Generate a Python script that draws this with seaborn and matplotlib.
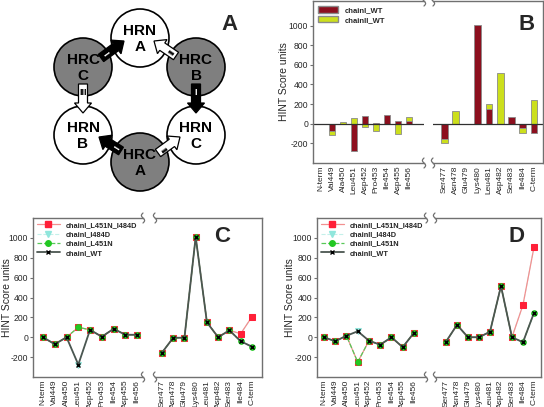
import numpy as np
import pandas as pd
import seaborn as sns
import matplotlib.pyplot as plt
from matplotlib.patches import Circle, FancyArrow, Patch
from matplotlib.lines import Line2D

# ---------------------------------------------------------
# data
# ---------------------------------------------------------
left_res = ['N-term', 'Val449', 'Ala450', 'Leu451', 'Asp452', 'Pro453',
            'Ile454', 'Asp455', 'Ile456']
right_res = ['Ser477', 'Asn478', 'Glu479', 'Lys480', 'Leu481', 'Asp482',
             'Ser483', 'Ile484', 'C-term']

# chain I (panel C, red bars in B)
c1_wt_left = [0, -70, 0, -275, 75, 5, 85, 25, 25]
c1_wt_right = [-155, -5, -5, 1010, 150, 0, 70, -40, -95]
c1_l451n_left = [0, -70, 0, 100, 75, 5, 85, 25, 25]
c1_l451n_right = [-155, -5, -5, 1010, 150, 0, 70, -40, -95]
c1_i484d_left = [0, -70, 0, -275, 75, 5, 85, 25, 25]
c1_i484d_right = [-155, -5, -5, 1010, 150, 0, 70, 35, 205]
c1_dbl_left = [0, -70, 0, 100, 75, 5, 85, 25, 25]
c1_dbl_right = [-155, -5, -5, 1010, 150, 0, 70, 35, 205]

# chain II (panel D, yellow bars in B)
c2_wt_left = [0, -40, 15, 60, -35, -75, 0, -100, 45]
c2_wt_right = [-45, 125, 0, 0, 55, 515, 0, -50, 245]
c2_l451n_left = [0, -40, 15, -250, -35, -75, 0, -100, 45]
c2_l451n_right = [-45, 125, 0, 0, 55, 515, 0, -50, 245]
c2_i484d_left = [0, -40, 15, 60, -35, -75, 0, -100, 45]
c2_i484d_right = [-45, 125, 0, 0, 55, 515, 0, 325, 905]
c2_dbl_left = [0, -40, 15, -250, -35, -75, 0, -100, 45]
c2_dbl_right = [-45, 125, 0, 0, 55, 515, 0, 325, 905]

yticks = [-200, 0, 200, 400, 600, 800, 1000]

# ---------------------------------------------------------
# styling
# ---------------------------------------------------------
sns.set_theme(style='white')
plt.rcParams['font.family'] = ['Liberation Sans', 'DejaVu Sans']

W, H = 544, 407
fig = plt.figure(figsize=(W / 100, H / 100), dpi=100)
SPINE = '#707070'
RED_BAR = '#8c0f1e'
YEL_BAR = '#ccdf1c'

line_styles = {
    'dbl': dict(color='#f29090', linestyle='-', linewidth=0.9, marker='s',
                markersize=5, markerfacecolor='#ff2038', markeredgecolor='#ff2038'),
    'i484d': dict(color='#c4f0ea', linestyle='--', linewidth=0.8, marker='v',
                  markersize=5, markerfacecolor='#90e6dc', markeredgecolor='#90e6dc'),
    'l451n': dict(color='#58c858', linestyle='--', linewidth=0.9, marker='o',
                  markersize=4, markerfacecolor='#22c822', markeredgecolor='#22c822'),
    'wt': dict(color='#4b5651', linestyle='-', linewidth=1.3, marker='x',
               markersize=2.8, markerfacecolor='black', markeredgecolor='black',
               markeredgewidth=1.0),
}
# drawing order (bottom to top)
draw_order = [('i484d', 1.8), ('dbl', 2.0), ('l451n', 2.2), ('wt', 2.4)]
legend_order = ['dbl', 'i484d', 'l451n', 'wt']


def px_rect(x0, y0, x1, y1):
    return [x0 / W, 1 - y1 / H, (x1 - x0) / W, (y1 - y0) / H]


def break_mark(xp, yp):
    t = np.linspace(-1, 1, 20)
    xs = (xp + 1.6 * np.sin(t * np.pi)) / W
    ys = 1 - (yp + 5 * t) / H
    fig.add_artist(Line2D(xs, ys, color=SPINE, lw=0.9, transform=fig.transFigure))


def setup_pair(axl, axr, ylim, xl, xr, rect_l, rect_r, label_x):
    for ax, labels, xlim in [(axl, left_res, xl), (axr, right_res, xr)]:
        ax.set_ylim(*ylim)
        ax.set_xlim(*xlim)
        ax.set_xticks(range(len(labels)))
        ax.set_xticklabels(labels, rotation=90, fontsize=6)
        ax.tick_params(axis='x', length=0, pad=2)
        for s in ax.spines.values():
            s.set_color(SPINE)
            s.set_linewidth(1.0)
        ax.set_xlabel('')
        ax.set_ylabel('')
    axl.spines['right'].set_visible(False)
    axr.spines['left'].set_visible(False)
    axl.set_yticks(yticks)
    axl.set_yticklabels([str(v) for v in yticks], fontsize=6.2)
    axl.tick_params(axis='y', direction='out', length=2.5, width=0.8,
                    color=SPINE, pad=1, left=True)
    axr.set_yticks([])
    axl.set_ylabel('HINT Score units', fontsize=7.5)
    width = rect_l[2] - rect_l[0]
    # label_x is the right edge of the rotated label, in pixels
    axl.yaxis.set_label_coords((label_x - rect_l[0]) / width, 0.5)
    # break marks at the gap
    for yp in (rect_l[1], rect_l[3]):
        break_mark(rect_l[2], yp)
        break_mark(rect_r[0], yp)


# ---------------------------------------------------------
# panel A : diagram
# ---------------------------------------------------------
axA = fig.add_axes(px_rect(0, 0, 272, 205))
axA.set_xlim(0, 272)
axA.set_ylim(205, 0)
axA.axis('off')

circles = [('HRN\nA', 140, 38, 'white'), ('HRC\nC', 83, 67, '#7f7f7f'),
           ('HRC\nB', 196, 67, '#7f7f7f'), ('HRN\nB', 83, 135, 'white'),
           ('HRN\nC', 196, 135, 'white'), ('HRC\nA', 140, 162, '#7f7f7f')]
for txt, cx, cy, fc in circles:
    axA.add_patch(Circle((cx, cy), 29, facecolor=fc, edgecolor='black', lw=1.2))
    axA.text(cx, cy + 1, txt, ha='center', va='center', fontsize=11,
             fontweight='bold', linespacing=1.2, color='black')

arrows = [(101, 58, 124, 41, 'black', 'I'), (176, 56, 154, 41, 'white', 'II'),
          (196, 84, 196, 113, 'black', 'I'), (83, 84, 83, 113, 'white', 'III'),
          (121, 151, 99, 137, 'black', 'I'), (158, 153, 180, 137, 'white', 'II')]
for x0, y0, x1, y1, fc, lab in arrows:
    dx, dy = x1 - x0, y1 - y0
    axA.add_patch(FancyArrow(x0, y0, dx, dy, width=9, head_width=17,
                             head_length=10, length_includes_head=True,
                             facecolor=fc, edgecolor='black', lw=0.9, zorder=5))
    ang = np.degrees(np.arctan2(-dy, dx))
    tc = 'white' if fc == 'black' else 'black'
    axA.text(x0 + dx * 0.3, y0 + dy * 0.3, lab, ha='center', va='center',
             fontsize=6.5, fontweight='bold', color=tc, rotation=ang + 90,
             zorder=6)

fig.text(230 / W, 1 - 25 / H, 'A', fontsize=16, fontweight='bold',
         ha='center', va='center')

# ---------------------------------------------------------
# panel B : stacked bars
# ---------------------------------------------------------
rB_l, rB_r = (313, 1, 424, 163), (433, 1, 543, 163)
axBl = fig.add_axes(px_rect(*rB_l))
axBr = fig.add_axes(px_rect(*rB_r))
for ax, red, yel in [(axBl, c1_wt_left, c2_wt_left), (axBr, c1_wt_right, c2_wt_right)]:
    red = np.array(red, float)
    yel = np.array(yel, float)
    bottom = np.where(np.sign(red) == np.sign(yel), red, 0)
    pos = np.arange(len(red))
    ax.bar(pos, red, width=0.62, color=RED_BAR, edgecolor='#8a8a8a', lw=0.6)
    ax.bar(pos, yel, bottom=bottom, width=0.62, color=YEL_BAR,
           edgecolor='#8a8a8a', lw=0.6)
    sns.lineplot(x=[-2, 20], y=[0, 0], ax=ax, color='#303030', lw=0.9)
setup_pair(axBl, axBr, (-400, 1250), (-0.73, 9.36), (-0.98, 8.8), rB_l, rB_r, 289)
axBl.legend(handles=[Patch(facecolor=RED_BAR, edgecolor='#8a8a8a', label='chainI_WT'),
                     Patch(facecolor=YEL_BAR, edgecolor='#8a8a8a', label='chainII_WT')],
            loc='upper left', bbox_to_anchor=(0.0, 1.0), frameon=False,
            prop={'size': 5.5, 'weight': 'bold'}, handlelength=2.6,
            handleheight=0.9, labelspacing=0.25, borderaxespad=0.3)
fig.text(527 / W, 1 - 25 / H, 'B', fontsize=16, fontweight='bold',
         ha='center', va='center')


# ---------------------------------------------------------
# panels C and D : line plots
# ---------------------------------------------------------
def line_panel(rect_l, rect_r, series_l, series_r, names, xl, xr, letter,
               lpos, label_x):
    axl = fig.add_axes(px_rect(*rect_l))
    axr = fig.add_axes(px_rect(*rect_r))
    for ax, series in [(axl, series_l), (axr, series_r)]:
        for key, z in draw_order:
            vals = series[key]
            df = pd.DataFrame({'pos': np.arange(len(vals)), 'score': vals})
            sns.lineplot(data=df, x='pos', y='score', ax=ax, legend=False,
                         zorder=z, **line_styles[key])
    setup_pair(axl, axr, (-400, 1200), xl, xr, rect_l, rect_r, label_x)
    handles = [Line2D([], [], label=names[k], **line_styles[k])
               for k in legend_order]
    axl.legend(handles=handles, loc='upper left', frameon=False,
               prop={'size': 5.3, 'weight': 'bold'}, handlelength=3.2,
               labelspacing=0.3, borderaxespad=0.3, borderpad=0.2)
    fig.text(lpos[0] / W, 1 - lpos[1] / H, letter, fontsize=16,
             fontweight='bold', ha='center', va='center')


line_panel((33, 218, 143, 377), (155, 218, 262, 377),
           {'dbl': c1_dbl_left, 'i484d': c1_i484d_left,
            'l451n': c1_l451n_left, 'wt': c1_wt_left},
           {'dbl': c1_dbl_right, 'i484d': c1_i484d_right,
            'l451n': c1_l451n_right, 'wt': c1_wt_right},
           {'dbl': 'chainI_L451N_I484D', 'i484d': 'chainI_I484D',
            'l451n': 'chainI_L451N', 'wt': 'chainI_WT'},
           (-0.85, 8.5), (-0.62, 8.9), 'C', (222, 237), 12)

line_panel((317, 218, 426, 377), (435, 218, 541, 377),
           {'dbl': c2_dbl_left, 'i484d': c2_i484d_left,
            'l451n': c2_l451n_left, 'wt': c2_wt_left},
           {'dbl': c2_dbl_right, 'i484d': c2_i484d_right,
            'l451n': c2_l451n_right, 'wt': c2_wt_right},
           {'dbl': 'chainII_L451N_I484D', 'i484d': 'chainII_I484D',
            'l451n': 'chainII_L451N', 'wt': 'chainII_WT'},
           (-0.62, 9.07), (-1.0, 8.64), 'D', (517, 237), 295)

fig.savefig('out.png', dpi=100, facecolor='white')
